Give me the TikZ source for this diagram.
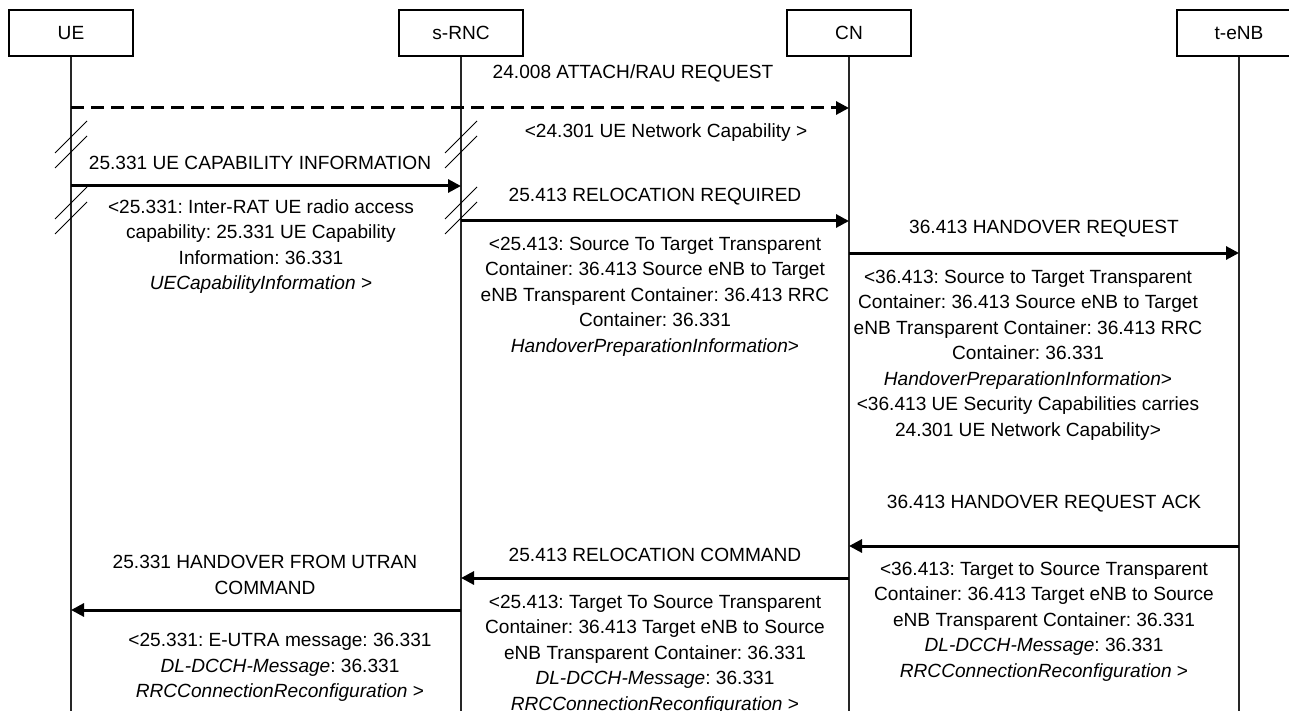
\documentclass[tikz,border=0pt]{standalone}
\usepackage{fontspec}
\setmainfont{Liberation Sans}
\usetikzlibrary{arrows.meta}
\frenchspacing

\tikzset{
	entity/.style={draw, line width=0.6pt, minimum width=62pt, minimum height=23pt, inner sep=0pt, font=\fontsize{9.55}{12.75}\selectfont},
	life/.style={line width=0.9pt, black!85},
	msg/.style={line width=1.5pt, -{Triangle[length=6.5pt,width=6.5pt]}},
	msgdash/.style={msg, dash pattern=on 6.5pt off 3.5pt},
	brk/.style={line width=0.5pt},
	txt/.style={align=center, inner sep=0pt, font=\fontsize{9.55}{12.75}\selectfont\frenchspacing},
}

\begin{document}
\begin{tikzpicture}[x=0.5pt, y=-0.5pt]
		\useasboundingbox (0, 0) rectangle (1289, 711);
		\clip (0, 0) rectangle (1289, 711);
		% entities
		\node[entity] (ue) at (71, 33) {UE};
		\node[entity] (rnc) at (461, 33) {s-RNC};
		\node[entity] (cn) at (849, 33) {CN};
		\node[entity] (enb) at (1239, 33) {t-eNB};
		\coordinate (bottom) at (0, 711);
		\foreach \n in {ue, rnc, cn, enb}{
			\draw[life] (\n.south) -- (\n |- bottom);
		}
		% breaks
		\foreach \n in {ue, rnc}{
			\foreach \y in {137, 152, 203, 218}{
				\path (\n |- 0, \y) coordinate (c);
				\draw[brk] (c) ++(-16, 16) -- ++(32, -32);
			}
		}
		% messages
		\coordinate (m1) at (0, 108);
		\coordinate (m2) at (0, 186);
		\coordinate (m3) at (0, 221);
		\coordinate (m4) at (0, 253);
		\coordinate (m5) at (0, 546);
		\coordinate (m6) at (0, 578);
		\coordinate (m7) at (0, 610);
		\draw[msgdash] (ue |- m1) -- (cn |- m1);
		\draw[msg] (ue |- m2) -- (rnc |- m2);
		\draw[msg] (rnc |- m3) -- (cn |- m3);
		\draw[msg] (cn |- m4) -- (enb |- m4);
		\draw[msg] (enb |- m5) -- (cn |- m5);
		\draw[msg] (cn |- m6) -- (rnc |- m6);
		\draw[msg] (rnc |- m7) -- (ue |- m7);
		% labels
		\node[txt] (l1) at (633, 73) {24.008 ATTACH/RAU REQUEST};
		\node[txt] (l1b) at (666, 133) {<24.301 UE Network Capability >};
		\node[txt] (l2) at (260, 163) {25.331 UE CAPABILITY INFORMATION};
		\node[txt] (l2b) at (261, 246.5) {<25.331: Inter-RAT UE radio access\\capability: 25.331 UE Capability\\Information: 36.331\\\textit{UECapabilityInformation} >};
		\node[txt] (l3) at (655, 197) {25.413 RELOCATION REQUIRED};
		\node[txt] (l3b) at (655, 296.5) {<25.413: Source To Target Transparent\\Container: 36.413 Source eNB to Target\\eNB Transparent Container: 36.413 RRC\\Container: 36.331\\\textit{HandoverPreparationInformation}>};
		\node[txt] (l4) at (1044, 229) {36.413 HANDOVER REQUEST};
		\node[txt] (l4b) at (1028, 355) {<36.413: Source to Target Transparent\\Container: 36.413 Source eNB to Target\\eNB Transparent Container: 36.413 RRC\\Container: 36.331\\\textit{HandoverPreparationInformation}>\\<36.413 UE Security Capabilities carries\\24.301 UE Network Capability>};
		\node[txt] (l5) at (1044, 504) {36.413 HANDOVER REQUEST ACK};
		\node[txt] (l5b) at (1044, 621.5) {<36.413: Target to Source Transparent\\Container: 36.413 Target eNB to Source\\eNB Transparent Container: 36.331\\\textit{DL-DCCH-Message}: 36.331\\\textit{RRCConnectionReconfiguration} >};
		\node[txt] (l6) at (655, 555) {25.413 RELOCATION COMMAND};
		\node[txt] (l6b) at (655, 654.5) {<25.413: Target To Source Transparent\\Container: 36.413 Target eNB to Source\\eNB Transparent Container: 36.331\\\textit{DL-DCCH-Message}: 36.331\\\textit{RRCConnectionReconfiguration} >};
		\node[txt] (l7) at (265, 575) {25.331 HANDOVER FROM UTRAN\\COMMAND};
		\node[txt] (l7b) at (280, 667.5) {<25.331: E-UTRA message: 36.331\\\textit{DL-DCCH-Message}: 36.331\\\textit{RRCConnectionReconfiguration} >};
	\end{tikzpicture}
\end{document}
